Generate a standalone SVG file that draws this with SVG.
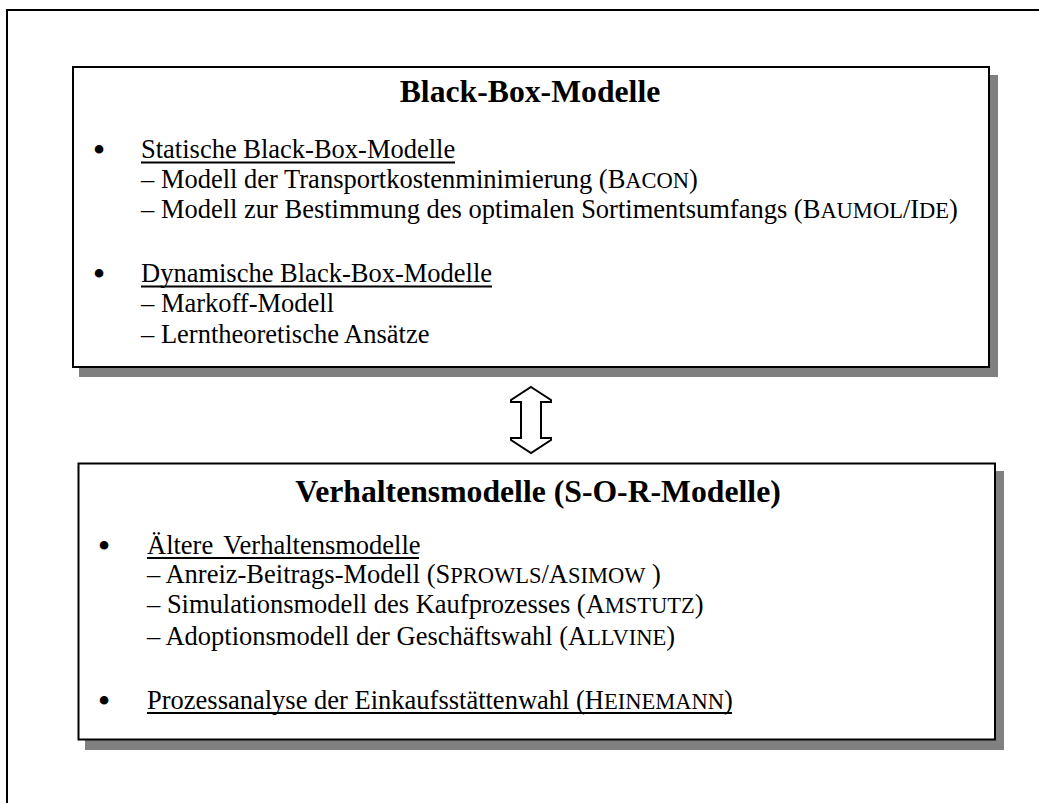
<svg xmlns="http://www.w3.org/2000/svg" width="1039" height="803" viewBox="0 0 1039 803">
<style>
.frame{fill:none;stroke:#000;stroke-width:2}
.box{fill:#fff;stroke:#000;stroke-width:2}
.shadow{fill:#808080;stroke:none}
.title{font-family:"Liberation Serif","Times New Roman",serif;font-weight:bold;font-size:31.7px;fill:#000;text-anchor:middle}
.t{font-family:"Liberation Serif","Times New Roman",serif;font-size:26.5px;fill:#000}
.b{font-family:"Liberation Serif","Times New Roman",serif;font-size:36px;fill:#000;text-anchor:middle}
.sc{font-size:22.5px}
.ul{stroke:#000;stroke-width:2}
.arrow{fill:#fff;stroke:#000;stroke-width:2;stroke-linejoin:miter}
</style>
<rect x="0" y="0" width="1039" height="803" fill="#fff"/>
<rect class="frame" x="7" y="10" width="1100" height="900"/>

<g id="black-box">
<rect class="shadow" x="79" y="75" width="919" height="302"/>
<rect class="box" x="73" y="67" width="916" height="300"/>
<text class="title" x="530" y="102">Black-Box-Modelle</text>
<text class="b" x="99" y="162">•</text>
<text class="t" x="141" y="158">Statische Black-Box-Modelle</text>
<line class="ul" x1="141" y1="162.5" x2="455" y2="162.5"/>
<text class="t" x="141" y="188">– Modell der Transportkostenminimierung (B<tspan class="sc">ACON</tspan>)</text>
<text class="t" x="141" y="218">– Modell zur Bestimmung des optimalen Sortimentsumfangs (B<tspan class="sc">AUMOL</tspan>/I<tspan class="sc">DE</tspan>)</text>
<text class="b" x="99" y="286">•</text>
<text class="t" x="141" y="282">Dynamische Black-Box-Modelle</text>
<line class="ul" x1="141" y1="286.5" x2="492" y2="286.5"/>
<text class="t" x="141" y="312">– Markoff-Modell</text>
<text class="t" x="141" y="343">– Lerntheoretische Ansätze</text>
</g>

<g id="connectors">
<polygon class="arrow" points="531,387 551,400 551,402 541,402 541,438 551,438 551,440 531,453 511,440 511,438 521,438 521,402 511,402 511,400"/>
</g>

<g id="verhaltensmodelle">
<rect class="shadow" x="85" y="471" width="919" height="279"/>
<rect class="box" x="78.5" y="463.5" width="916.5" height="276"/>
<text class="title" x="538" y="502">Verhaltensmodelle (S-O-R-Modelle)</text>
<text class="b" x="104" y="558">•</text>
<text class="t" x="147" y="554" word-spacing="4">Ältere Verhaltensmodelle</text>
<line class="ul" x1="147" y1="558" x2="419" y2="558"/>
<text class="t" x="147" y="583">– Anreiz-Beitrags-Modell (S<tspan class="sc">PROWLS</tspan>/A<tspan class="sc">SIMOW</tspan> )</text>
<text class="t" x="147" y="613">– Simulationsmodell des Kaufprozesses (A<tspan class="sc">MSTUTZ</tspan>)</text>
<text class="t" x="147" y="645">– Adoptionsmodell der Geschäftswahl (A<tspan class="sc">LLVINE</tspan>)</text>
<text class="b" x="104" y="713">•</text>
<text class="t" x="147" y="709">Prozessanalyse der Einkaufsstättenwahl (H<tspan class="sc">EINEMANN</tspan>)</text>
<line class="ul" x1="147" y1="713" x2="732" y2="713"/>
</g>
</svg>
